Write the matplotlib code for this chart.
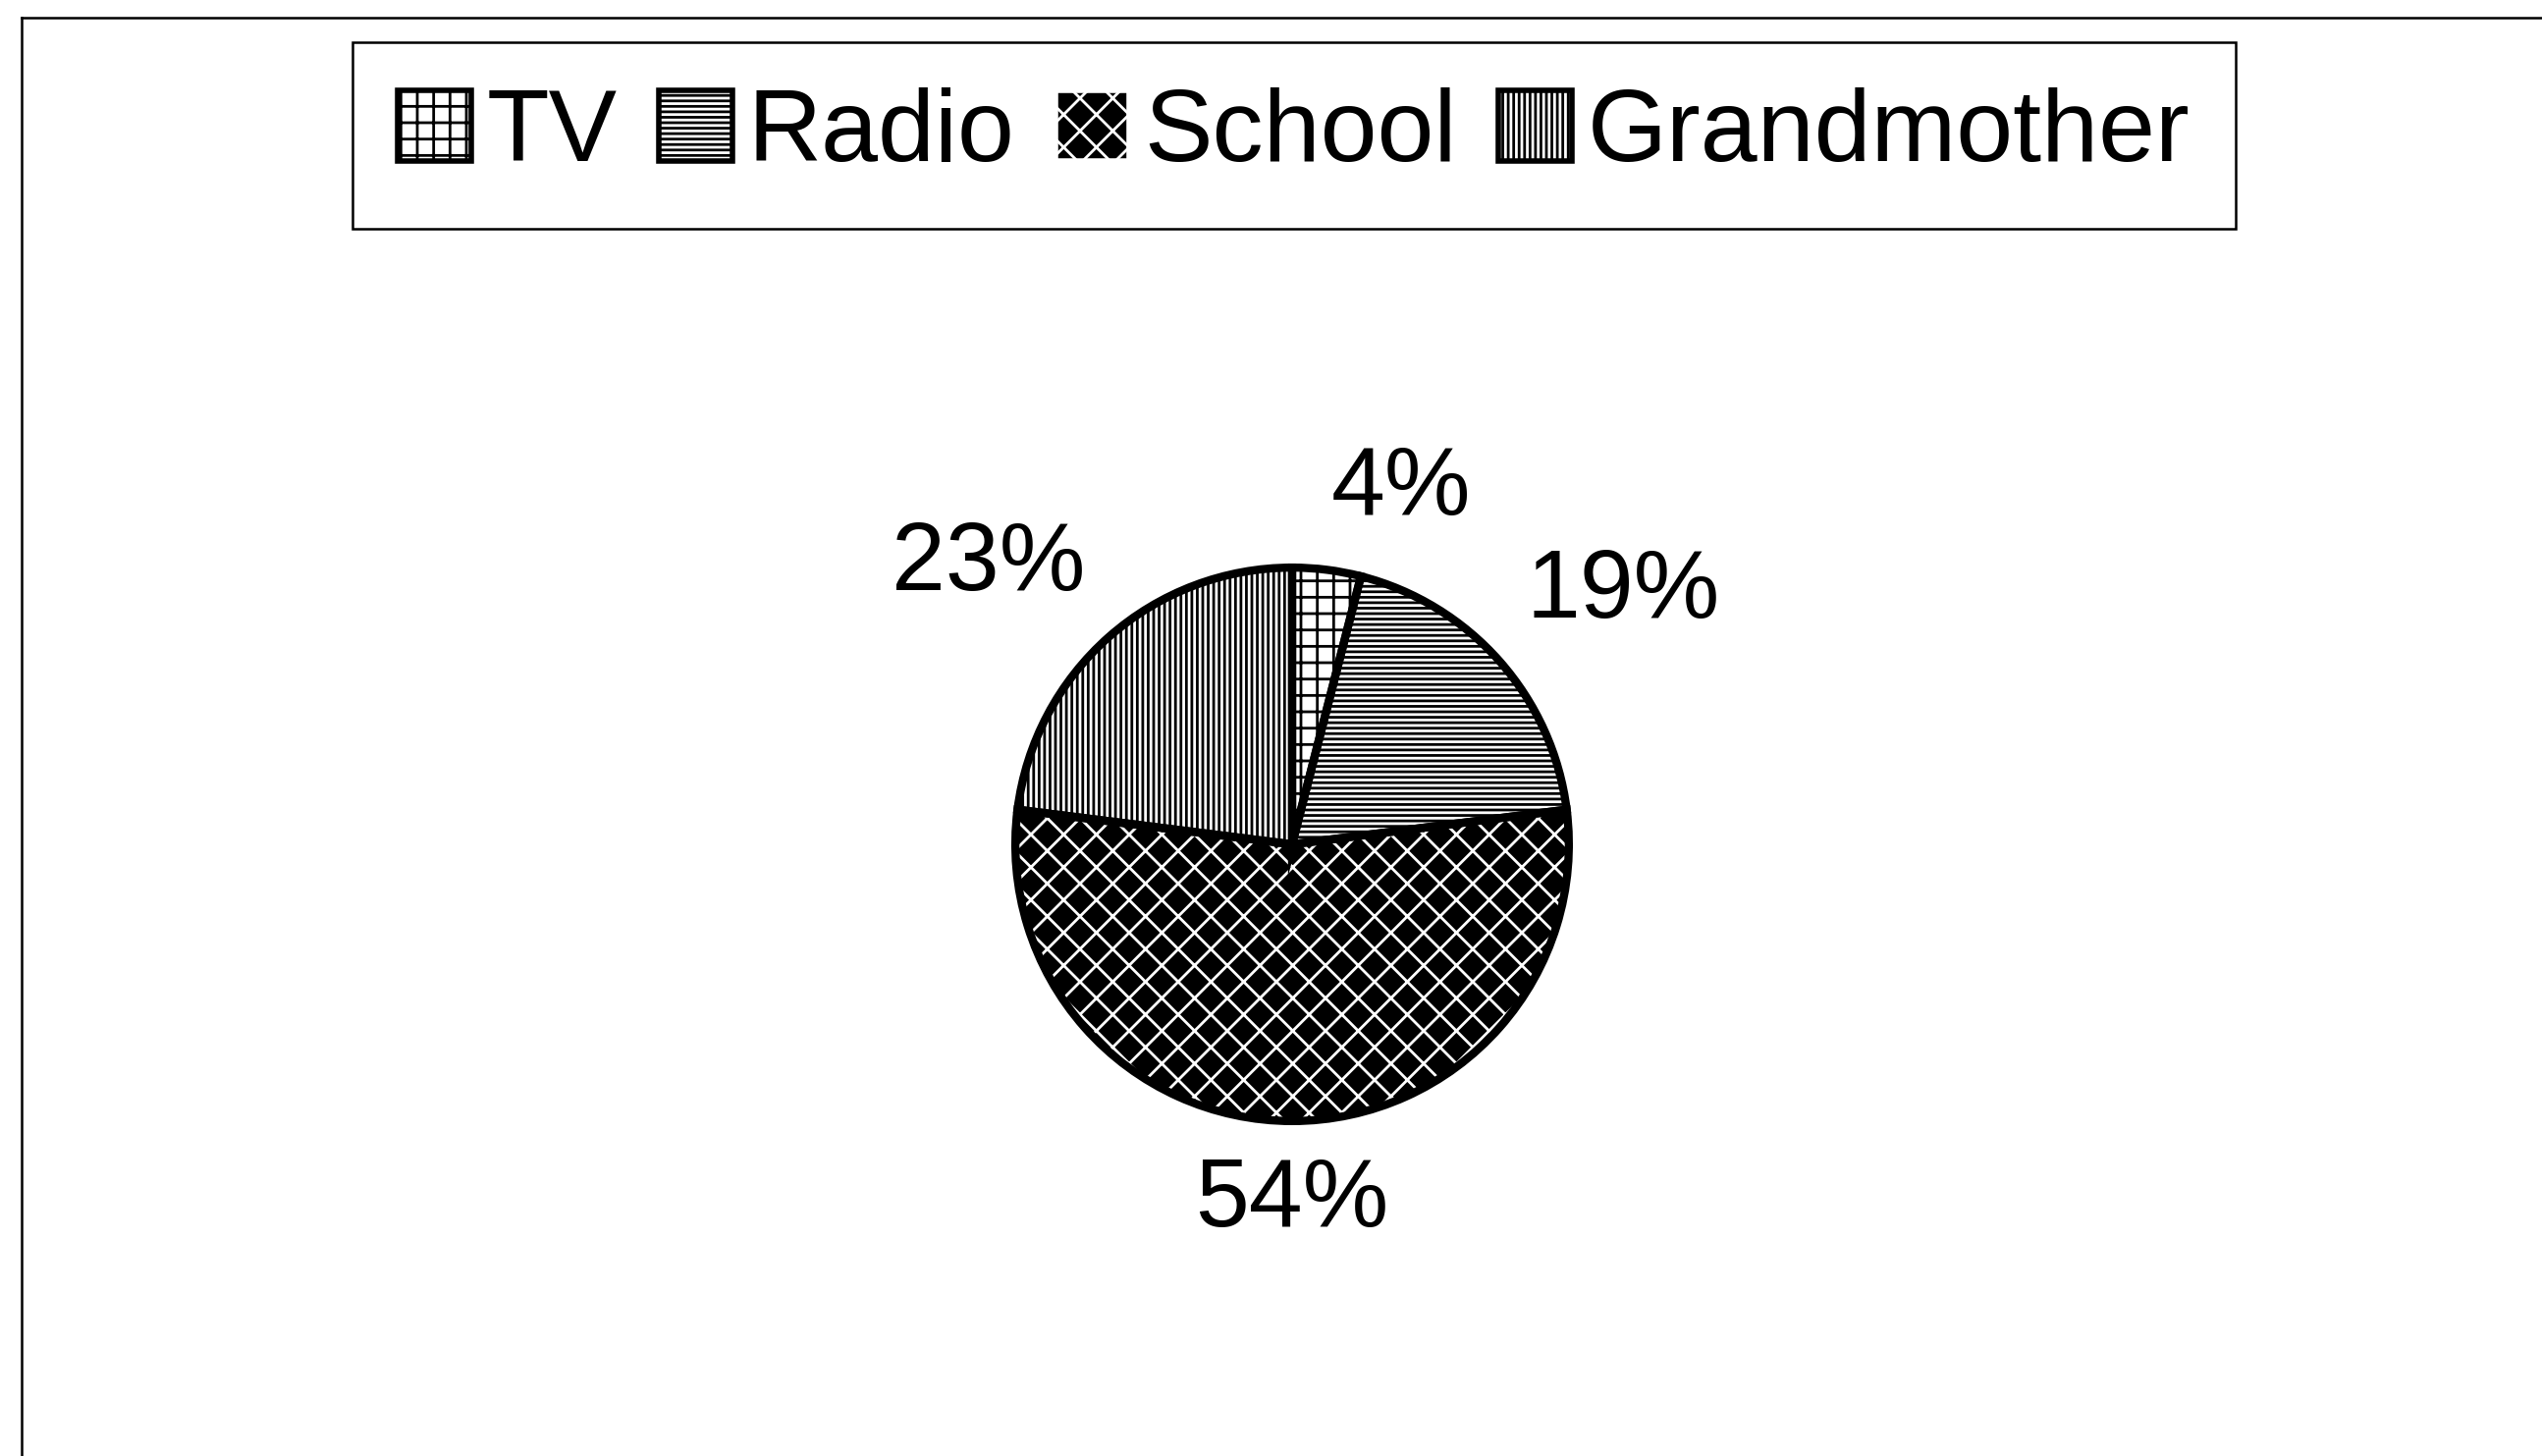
import matplotlib
matplotlib.use("Agg")
import matplotlib.pyplot as plt
from matplotlib.lines import Line2D
from matplotlib.patches import Patch
import numpy as np

# data
categories = ["TV", "Radio", "School", "Grandmother"]
shares = [4, 19, 54, 23]
pct_labels = ["4%", "19%", "54%", "23%"]

# black & white print: every slice is a hatch pattern
FACES = ["white", "white", "black", "white"]
HATCH_COLORS = ["black", "black", "white", "black"]
HATCHES = ["+", "---", "x", "|||"]

W, H = 2589, 1483

plt.rcParams["font.family"] = ["Liberation Sans", "DejaVu Sans"]
plt.rcParams["hatch.linewidth"] = 2.0

fig = plt.figure(figsize=(W / 100, H / 100), dpi=100)
fig.patch.set_facecolor("white")

# what is left of the outer chart frame (top and left edges only)
fx, fy = 22 / W, 1 - 18 / H
fig.add_artist(Line2D([fx, 1], [fy, fy], color="black", lw=1.8, transform=fig.transFigure))
fig.add_artist(Line2D([fx, fx], [0, fy], color="black", lw=1.8, transform=fig.transFigure))

# pie, radius 1 ~ 282 px, centre at about (1318, 860)
ax = fig.add_axes([0.3341, 0.116, 0.3484, 0.6082])
wedges, _ = ax.pie(shares, startangle=90, counterclock=False, colors=FACES,
                   wedgeprops=dict(linewidth=0))
for w, h, hc in zip(wedges, HATCHES, HATCH_COLORS):
    w.set_hatch(h)
    w.set_edgecolor(hc)

# thick black outlines drawn over the hatches
ax.pie(shares, startangle=90, counterclock=False,
       wedgeprops=dict(linewidth=6, edgecolor="black", fill=False))

# percent labels outside the slices, Excel style
for w, lab in zip(wedges, pct_labels):
    ang = np.deg2rad((w.theta1 + w.theta2) / 2)
    dx, dy = np.cos(ang), np.sin(ang)
    ha = "center" if abs(dx) < 0.1 else ("left" if dx > 0 else "right")
    va = "center" if abs(dy) < 0.1 else ("bottom" if dy > 0 else "top")
    ax.text(1.13 * dx, 1.13 * dy, lab, ha=ha, va=va, fontsize=71)

ax.set_xlim(-1.6, 1.6)
ax.set_ylim(-1.6, 1.6)
ax.set_aspect("equal")
ax.axis("off")

handles = [Patch(facecolor=f, edgecolor=hc, hatch=h, linewidth=4)
           for f, hc, h in zip(FACES, HATCH_COLORS, HATCHES)]
leg = fig.legend(handles, categories, loc="center", bbox_to_anchor=(0.509, 0.907),
                 ncol=4, fontsize=75, frameon=True, fancybox=False,
                 edgecolor="black", framealpha=1, handlelength=0.72,
                 handleheight=0.7, handletextpad=0.15, columnspacing=0.4,
                 borderpad=0.45, borderaxespad=0)
leg.get_frame().set_linewidth(1.8)

fig.savefig("out.png", dpi=100)
